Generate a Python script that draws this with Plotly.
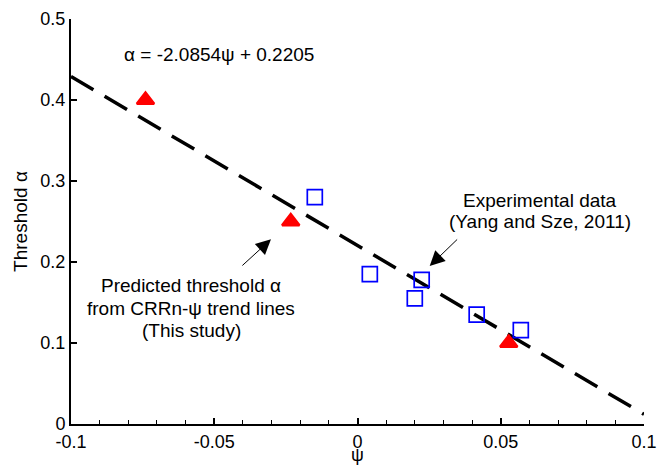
import plotly.graph_objects as go

# Data
pred_psi = [-0.074, -0.0233, 0.0528]
pred_alpha = [0.400, 0.250, 0.100]

exp_psi = [-0.0149, 0.0043, 0.0224, 0.0200, 0.0416, 0.0570]
exp_alpha = [0.280, 0.185, 0.178, 0.155, 0.135, 0.116]

slope = -2.0854
intercept = 0.2205
line_psi = [-0.1, 0.1]
line_alpha = [slope * p + intercept for p in line_psi]

x_ticks = [-0.1, -0.05, 0, 0.05, 0.1]
x_ticklabels = ["-0.1", "-0.05", "0", "0.05", "0.1"]
y_ticks = [0, 0.1, 0.2, 0.3, 0.4, 0.5]
y_ticklabels = ["0", "0.1", "0.2", "0.3", "0.4", "0.5"]

FONT = "Liberation Sans, Arial, Helvetica, sans-serif"
TXT = dict(size=19, color="black", family=FONT)

fig = go.Figure()
fig.add_trace(go.Scatter(
    x=line_psi, y=line_alpha, mode="lines",
    line=dict(color="black", width=3.5, dash="26px,13px"),
    showlegend=False, hoverinfo="skip"))
fig.add_trace(go.Scatter(
    x=exp_psi, y=exp_alpha, mode="markers",
    marker=dict(symbol="square-open", size=15, color="#0000ff",
                line=dict(color="#0000ff", width=1.7)),
    showlegend=False))
fig.add_trace(go.Scatter(
    x=pred_psi, y=pred_alpha, mode="markers",
    marker=dict(symbol="triangle-up", size=15, color="#ff0000",
                line=dict(color="#ff0000", width=2.5)),
    showlegend=False))

def label(x, y, text):
    return dict(x=x, y=y, xref="x", yref="y", text=text, showarrow=False,
                xanchor="center", yanchor="middle", font=TXT)

annotations = [
    label(-0.0483, 0.4556, "α = -2.0854ψ + 0.2205"),
    label(0.0637, 0.2765, "Experimental data"),
    label(0.0637, 0.2506, "(Yang and Sze, 2011)"),
    label(-0.0581, 0.1716, "Predicted threshold α"),
    label(-0.0581, 0.1432, "from CRRn-ψ trend lines"),
    label(-0.0581, 0.1160, "(This study)"),
    dict(x=0.0252, y=0.195, ax=0.0353, ay=0.2296, xref="x", yref="y",
         axref="x", ayref="y", text="", showarrow=True, arrowhead=2,
         arrowsize=3, arrowwidth=1, arrowcolor="black"),
    dict(x=-0.0302, y=0.228, ax=-0.0407, ay=0.194, xref="x", yref="y",
         axref="x", ayref="y", text="", showarrow=True, arrowhead=2,
         arrowsize=3, arrowwidth=1, arrowcolor="black"),
]

fig.update_layout(
    width=658, height=465,
    margin=dict(l=71, r=14, t=19, b=41),
    paper_bgcolor="white", plot_bgcolor="white",
    font=dict(family=FONT, size=18, color="black"),
    annotations=annotations,
    xaxis=dict(range=[-0.1, 0.1], tickvals=x_ticks, ticktext=x_ticklabels,
               ticks="inside", ticklen=6, tickwidth=1.5, tickcolor="black",
               showline=True, linecolor="black", linewidth=2,
               showgrid=False, zeroline=False, automargin=False,
               minor=dict(dtick=0.01, ticks="inside", ticklen=4, tickwidth=1.2,
                          tickcolor="black", showgrid=False),
               title=dict(text="ψ", standoff=0,
                          font=dict(size=18, color="black", family=FONT)),
               tickfont=dict(size=18, color="black", family=FONT)),
    yaxis=dict(range=[0, 0.5], tickvals=y_ticks, ticktext=y_ticklabels,
               ticks="inside", ticklen=6, tickwidth=1.5, tickcolor="black",
               showline=True, linecolor="black", linewidth=2,
               showgrid=False, zeroline=False, automargin=False,
               title=dict(text="Threshold α", standoff=8,
                          font=dict(size=19, color="black", family=FONT)),
               tickfont=dict(size=18, color="black", family=FONT)),
)

fig.write_html("out.html")
